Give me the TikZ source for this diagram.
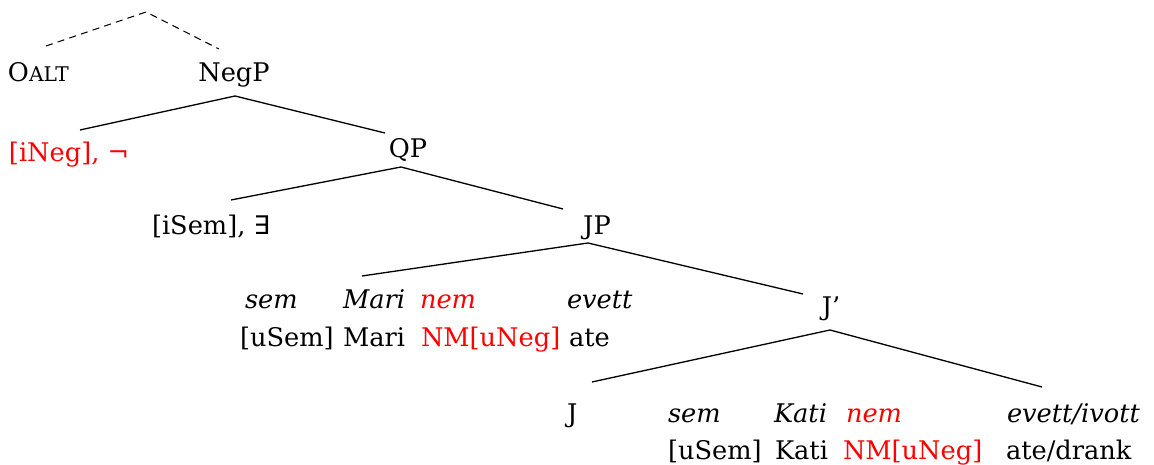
\documentclass[tikz,border=0pt]{standalone}
\usepackage{fontspec}
\setmainfont{DejaVu Serif}
\newfontfamily\symfnt{DejaVu Sans}
\begin{document}
\begin{tikzpicture}[x=0.02cm,y=-0.02cm,
  lbl/.style={inner sep=0pt,outer sep=0pt,font=\fontsize{14.6}{17}\selectfont},
  lw/.style={lbl,anchor=base west},
  lc/.style={lbl,anchor=base},
  it/.style={font=\fontsize{14.6}{17}\selectfont\itshape},
  neg/.style={text=red},
  branch/.style={line width=0.75pt},
  dbranch/.style={line width=0.6pt,dash pattern=on 4pt off 3pt}]
\useasboundingbox (0,0) rectangle (1154,465);
% labels
\node[lw] (oalt) at (8,82) {O{\fontsize{11.5}{13}\selectfont ALT}};
\node[lc] (negp) at (234,82) {NegP};
\node[lw,neg] (ineg) at (9,162) {[iNeg], ¬};
\node[lc] (qp) at (408,158) {QP};
\node[lw] (isem) at (152,235) {[iSem], {\symfnt ∃}};
\node[lc] (jp) at (597,235) {JP};
\node[lw,it] (sema) at (245,309) {sem};
\node[lw,it] (maria) at (343,309) {Mari};
\node[lw,it,neg] (nema) at (420,309) {nem};
\node[lw,it] (evetta) at (567,309) {evett};
\node[lw] (usema) at (240,347) {[uSem]};
\node[lw] (marib) at (343,347) {Mari};
\node[lw,neg] (nma) at (421,347) {NM[uNeg]};
\node[lw] (atea) at (569,347) {ate};
\node[lc] (jbar) at (831,316) {J’};
\node[lw] (j) at (567,423) {J};
\node[lw,it] (semb) at (668,423) {sem};
\node[lw,it] (katia) at (774,423) {Kati};
\node[lw,it,neg] (nemb) at (846,423) {nem};
\node[lw,it] (evettb) at (1007,423) {evett/ivott};
\node[lw] (usemb) at (668,460) {[uSem]};
\node[lw] (katib) at (775,460) {Kati};
\node[lw,neg] (nmb) at (843,460) {NM[uNeg]};
\node[lw] (ateb) at (1006,460) {ate/drank};
% branch points
\coordinate (top) at (146,12);
\coordinate (topL) at (46,46);
\coordinate (topR) at (219,49);
\coordinate (negpA) at (235,96);
\coordinate (negpL) at (80,130);
\coordinate (negpR) at (385,133);
\coordinate (qpA) at (401,167);
\coordinate (qpL) at (231,200);
\coordinate (qpR) at (563,209);
\coordinate (jpA) at (588,243);
\coordinate (jpL) at (362,276);
\coordinate (jpR) at (803,294);
\coordinate (jbA) at (830,330);
\coordinate (jbL) at (592,382);
\coordinate (jbR) at (1042,387);
% branches
\draw[dbranch] (topL) -- (top) -- (topR);
\draw[branch] (negpL) -- (negpA) -- (negpR);
\draw[branch] (qpL) -- (qpA) -- (qpR);
\draw[branch] (jpL) -- (jpA) -- (jpR);
\draw[branch] (jbL) -- (jbA) -- (jbR);
\end{tikzpicture}
\end{document}
